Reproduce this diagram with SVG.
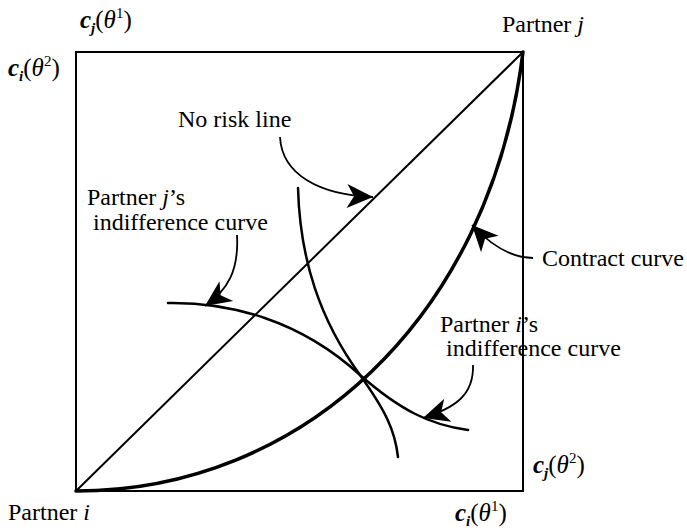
<svg xmlns="http://www.w3.org/2000/svg" width="687" height="530" viewBox="0 0 687 530">
<style>
text{font-family:"Liberation Serif","Times New Roman",serif;fill:#000;}
.lbl{font-size:24px;}
.math{font-size:25px;}
.it{font-style:italic;}
.bi{font-style:italic;font-weight:bold;}
.ln{fill:none;stroke:#000;stroke-linecap:round;}
.conn{fill:none;stroke:#000;stroke-width:1.8;}
</style>
<defs>
<marker id="ah" markerUnits="userSpaceOnUse" markerWidth="32" markerHeight="32" viewBox="-28 -14 32 28" refX="0" refY="0" orient="auto">
<path d="M0,0 L-26,-12 L-19,0 L-26,12 Z" fill="#000"/>
</marker>
</defs>
<rect width="687" height="530" fill="#fff"/>
<g id="box">
<rect x="76" y="52" width="447" height="439" fill="none" stroke="#000" stroke-width="2"/>
</g>
<g id="no-risk-line">
<line class="ln" x1="76" y1="491" x2="523" y2="52" stroke-width="2"/>
</g>
<g id="contract-curve">
<path class="ln" d="M76,491 C300,491 490,320 523,52" stroke-width="3.5"/>
</g>
<g id="j-indifference">
<path class="ln" d="M168,303 C230,302 300,320 360,375 C400,410 430,425 468,430" stroke-width="2.5"/>
</g>
<g id="i-indifference">
<path class="ln" d="M298,188 C300,260 320,320 360,375 C385,410 395,430 398,457" stroke-width="2.5"/>
</g>
<g id="connectors">
<path class="conn" d="M280,137 C282,175 320,195 373,197" marker-end="url(#ah)"/>
<path class="conn" d="M237,235 C239,270 228,290 205,306" marker-end="url(#ah)"/>
<path class="conn" d="M533,258 C510,258 488,242 472,225" marker-end="url(#ah)"/>
<path class="conn" d="M473,365 C474,395 455,408 423,418" marker-end="url(#ah)"/>
</g>
<g id="labels">
<text class="lbl" x="178" y="127">No risk line</text>
<text class="lbl" x="87" y="205">Partner <tspan class="it">j</tspan>’s</text>
<text class="lbl" x="93" y="230">indifference curve</text>
<text class="lbl" x="542" y="266">Contract curve</text>
<text class="lbl" x="440" y="332">Partner <tspan class="it">i</tspan>’s</text>
<text class="lbl" x="446" y="356">indifference curve</text>
<text class="lbl" x="502" y="32">Partner <tspan class="it">j</tspan></text>
<text class="lbl" x="8" y="520">Partner <tspan class="it">i</tspan></text>
</g>
<g id="axis-labels">
<text class="math" x="80" y="28"><tspan class="bi">c</tspan><tspan class="bi" font-size="15" dy="5">j</tspan><tspan dy="-5">(</tspan><tspan class="it">θ</tspan><tspan font-size="15" dy="-10">1</tspan><tspan dy="10">)</tspan></text>
<text class="math" x="8" y="76"><tspan class="bi">c</tspan><tspan class="bi" font-size="15" dy="5">i</tspan><tspan dy="-5">(</tspan><tspan class="it">θ</tspan><tspan font-size="15" dy="-10">2</tspan><tspan dy="10">)</tspan></text>
<text class="math" x="533" y="473"><tspan class="bi">c</tspan><tspan class="bi" font-size="15" dy="5">j</tspan><tspan dy="-5">(</tspan><tspan class="it">θ</tspan><tspan font-size="15" dy="-10">2</tspan><tspan dy="10">)</tspan></text>
<text class="math" x="455" y="521"><tspan class="bi">c</tspan><tspan class="bi" font-size="15" dy="5">i</tspan><tspan dy="-5">(</tspan><tspan class="it">θ</tspan><tspan font-size="15" dy="-10">1</tspan><tspan dy="10">)</tspan></text>
</g>
</svg>
